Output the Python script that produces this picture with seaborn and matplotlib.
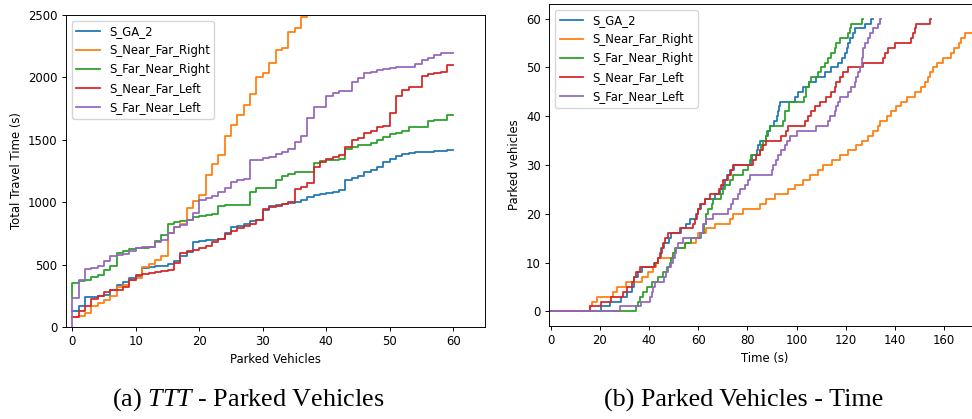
import numpy as np
import pandas as pd
import matplotlib
matplotlib.use("Agg")
import matplotlib.pyplot as plt
import seaborn as sns
from matplotlib.lines import Line2D

# ---------------- data ----------------
strategies = ["S_GA_2", "S_Near_Far_Right", "S_Far_Near_Right", "S_Near_Far_Left", "S_Far_Near_Left"]
colors = ["#1f77b4", "#ff7f0e", "#2ca02c", "#d62728", "#9467bd"]

parked = list(range(61))

# (a) cumulative total travel time (s) per number of parked vehicles (value held on [k, k+1))
ttt_start = {"S_GA_2": 125, "S_Near_Far_Right": 80, "S_Far_Near_Right": 240,
             "S_Near_Far_Left": 80, "S_Far_Near_Left": 0}
ttt_ga2 = [125, 165, 237, 240, 245, 255, 293, 340, 360, 390,
           410, 470, 480, 485, 487, 505, 525, 565, 600, 680,
           690, 695, 700, 705, 750, 800, 810, 825, 850, 857,
           940, 970, 980, 985, 990, 1000, 1020, 1040, 1055, 1065,
           1075, 1085, 1095, 1180, 1195, 1210, 1240, 1260, 1280, 1320,
           1350, 1370, 1390, 1395, 1400, 1405, 1405, 1408, 1410, 1418, 1418]
ttt_nfr = [80, 85, 112, 170, 190, 215, 250, 320, 340, 378,
           395, 480, 505, 540, 570, 752, 798, 827, 952, 1006,
           1059, 1219, 1307, 1379, 1531, 1620, 1700, 1780, 1868, 2006,
           2033, 2113, 2220, 2233, 2361, 2393, 2487, 2505, 2600]
ttt_fnr = [350, 371, 375, 400, 416, 453, 485, 592, 605, 624,
           632, 637, 640, 686, 739, 827, 838, 846, 855, 878,
           891, 899, 905, 966, 974, 978, 980, 980, 1078, 1113,
           1113, 1113, 1179, 1211, 1227, 1238, 1238, 1238, 1318, 1331,
           1339, 1342, 1345, 1427, 1446, 1459, 1462, 1473, 1499, 1521,
           1545, 1558, 1574, 1601, 1603, 1606, 1654, 1660, 1662, 1700, 1700]
ttt_nfl = [80, 125, 171, 224, 251, 277, 299, 300, 320, 379,
           416, 427, 430, 440, 446, 459, 512, 592, 606, 614,
           630, 646, 678, 704, 744, 771, 790, 806, 827, 854,
           944, 960, 971, 987, 1003, 1105, 1121, 1153, 1286, 1323,
           1345, 1366, 1379, 1446, 1500, 1518, 1558, 1574, 1606, 1611,
           1718, 1852, 1900, 1921, 1927, 2012, 2028, 2038, 2040, 2100, 2100]
ttt_fnl = [232, 379, 464, 472, 486, 526, 566, 579, 587, 606,
           632, 638, 640, 678, 699, 752, 800, 819, 859, 912,
           1019, 1033, 1046, 1078, 1113, 1158, 1179, 1185, 1339, 1339,
           1353, 1366, 1387, 1406, 1427, 1486, 1531, 1673, 1766, 1766,
           1852, 1873, 1894, 1894, 1966, 1993, 2033, 2046, 2059, 2065,
           2073, 2081, 2081, 2086, 2108, 2140, 2153, 2180, 2193, 2193, 2193]
ttt_values = {"S_GA_2": ttt_ga2, "S_Near_Far_Right": ttt_nfr, "S_Far_Near_Right": ttt_fnr,
              "S_Near_Far_Left": ttt_nfl, "S_Far_Near_Left": ttt_fnl}

# (b) parked vehicles over time: step break points (time s, count)
t_ga2 = [0, 20.3, 24, 28.7, 31, 33, 34, 35.5, 37, 42, 43.5, 45, 46, 48, 49, 53, 55, 56.5, 59, 60,
         61, 62.6, 67, 69, 70, 71, 71.5, 73, 74.4, 81.6, 82, 83.7, 84.5, 85, 87.7, 88.5, 89, 91,
         92, 92.5, 93, 93.4, 99.5, 100.6, 102.6, 105, 108, 111.5, 114, 117, 118.3, 119.6, 120.3,
         121, 121.6, 123, 123.6, 127.7, 130.4, 131]
n_ga2 = [0, 1, 2, 3, 4, 5, 7, 8, 9, 10, 11, 13, 14, 15, 16, 17, 18, 19, 20, 21,
         22, 23, 24, 25, 26, 27, 28, 29, 30, 31, 32, 33, 34, 35, 36, 37, 38, 39,
         40, 41, 42, 43, 44, 45, 46, 47, 48, 49, 50, 51, 52, 53, 54,
         55, 56, 57, 58, 59, 60, 60]
t_nfr = [0, 15.9, 16.8, 19, 25.4, 27, 30.8, 37, 39.6, 41.7, 43, 43.7, 49.8, 51.1, 54.5, 59, 60,
         63.3, 66.7, 72.8, 74.2, 78.2, 85, 87.7, 91.1, 96.5, 99.3, 102.6, 105.4, 108.7, 110.8,
         114.2, 117.6, 121, 124.3, 126.4, 129, 131.1, 133.2, 134, 136.9, 138.3, 140.6, 142.6,
         144.7, 148, 150.8, 152.1, 153.5, 154.2, 155.5, 157, 159.6, 162.7, 164, 166, 166.8, 168.4, 176]
n_nfr = [0, 1, 2, 3, 4, 5, 6, 7, 8, 9, 10, 11, 12, 13, 14, 15, 16,
         17, 18, 19, 20, 21, 22, 23, 24, 25, 26, 27, 28, 29, 30,
         31, 32, 33, 34, 35, 36, 37, 38, 39, 40, 41, 42, 43,
         44, 45, 46, 47, 48, 49, 50, 51, 52, 53, 54, 55, 56, 57, 57]
t_fnr = [0, 34.6, 35.5, 36.2, 37.5, 39, 41, 43.7, 45.7, 47.3, 48.4, 49, 49.7, 50.4, 54.5, 57,
         61.3, 62.3, 63, 64, 65.4, 66, 69.4, 70.1, 70.8, 72.8, 74, 78, 80.3, 81, 81.6, 85, 85.7,
         86.4, 87.7, 88, 89, 94.5, 95.3, 97, 103, 104, 105, 106, 108.7, 110, 111.5, 112.8, 114,
         115.5, 116, 117.6, 121, 121.6, 122.3, 126.4, 127]
n_fnr = [0, 1, 2, 3, 4, 5, 6, 7, 8, 9, 10, 11, 12, 13, 14, 15,
         16, 18, 20, 21, 22, 23, 24, 25, 26, 27, 28, 29, 30, 31, 32, 33, 34,
         35, 36, 37, 38, 39, 41, 43, 44, 46, 47, 48, 49, 50, 51, 52, 53,
         54, 55, 56, 57, 58, 59, 60, 60]
t_nfl = [0, 15.9, 20.6, 24.5, 29.5, 31, 33, 34, 34.8, 36.2, 42.3, 43.7, 44.6, 45.4, 45.8, 46.4,
         47.7, 52.7, 57.9, 58.6, 59.3, 60, 60.6, 62.7, 64.7, 68.5, 69.4, 70, 72, 73.4, 74, 82.3,
         83.4, 85, 86.4, 87.7, 93.8, 95.6, 96.5, 103.3, 104.7, 106, 107.4, 109.4, 112, 114, 115.5,
         116.2, 117.6, 119, 121, 127, 135, 135.9, 137, 140, 146.7, 147.4, 148, 148.7, 154.2, 154.6]
n_nfl = [0, 1, 2, 3, 4, 5, 6, 7, 8, 9, 10, 11, 12, 13, 14, 15,
         16, 17, 18, 19, 20, 21, 22, 23, 24, 25, 26, 27, 28, 29, 30, 31,
         32, 33, 34, 35, 36, 37, 38, 39, 40, 41, 42, 43, 44, 45, 46,
         47, 48, 49, 50, 51, 52, 53, 54, 55, 56, 57, 58, 59, 60, 60]
t_fnl = [0, 28, 36.9, 40.3, 41, 41.6, 42.3, 46.1, 46.8, 47.7, 49.1, 49.8, 50.4, 51.1, 51.8, 53.8,
         60.6, 61.8, 62, 63.3, 66, 72.1, 73.5, 74.2, 76.2, 76.9, 79, 80.3, 81, 89.8, 90.4, 91.8,
         92.5, 93.8, 95.2, 95.9, 97.2, 100, 108, 112.8, 113.5, 115.5, 116.2, 117, 117.6, 121,
         122.3, 123.7, 124.3, 125, 125.7, 126.4, 127, 127.7, 129, 129.8, 131, 133, 133.8, 134.4]
n_fnl = [0, 1, 2, 3, 4, 5, 6, 7, 8, 9, 10, 11, 12, 13, 14, 15,
         16, 17, 18, 19, 20, 21, 22, 23, 24, 25, 26, 27, 28, 29, 30, 31,
         32, 33, 34, 35, 36, 37, 38, 39, 40, 41, 42, 43, 44, 45,
         46, 47, 48, 49, 50, 52, 54, 55, 56, 57, 58, 59, 60, 60]
time_values = {"S_GA_2": (t_ga2, n_ga2), "S_Near_Far_Right": (t_nfr, n_nfr),
               "S_Far_Near_Right": (t_fnr, n_fnr), "S_Near_Far_Left": (t_nfl, n_nfl),
               "S_Far_Near_Left": (t_fnl, n_fnl)}

# ---------------- build tables ----------------
rows = []
for s in strategies:
    vals = ttt_values[s]
    xs = [0] + parked[:len(vals)]
    ys = [ttt_start[s]] + vals
    rows.append(pd.DataFrame({"x": xs, "y": ys, "Strategy": s}))
df_a = pd.concat(rows, ignore_index=True)

rows = []
for s in strategies:
    t, n = time_values[s]
    rows.append(pd.DataFrame({"x": t, "y": n, "Strategy": s}))
df_b = pd.concat(rows, ignore_index=True)

# ---------------- style ----------------
sc = 0.85
fs = 8.4
plt.rcParams.update({
    "font.family": ["DejaVu Sans"],
    "font.size": fs,
    "axes.linewidth": 0.8 * sc,
    "xtick.major.width": 0.8 * sc,
    "ytick.major.width": 0.8 * sc,
    "xtick.major.size": 3.5 * sc,
    "ytick.major.size": 3.5 * sc,
    "xtick.major.pad": 3.5 * sc,
    "ytick.major.pad": 3.5 * sc,
    "axes.labelpad": 4 * sc,
    "mathtext.fontset": "custom",
    "mathtext.it": "Liberation Serif:italic",
    "mathtext.rm": "Liberation Serif",
})

W, H = 972, 419
fig = plt.figure(figsize=(W / 100, H / 100), dpi=100)
ax1 = fig.add_axes([65.7 / W, 1 - 327 / H, (485 - 65.7) / W, (327 - 15) / H])
ax2 = fig.add_axes([549 / W, 1 - 326 / H, (981 - 549) / W, (326 - 4) / H])

pal = dict(zip(strategies, colors))
lw = 1.5 * sc

sns.lineplot(data=df_a, x="x", y="y", hue="Strategy", hue_order=strategies, palette=pal,
             estimator=None, sort=False, drawstyle="steps-post", linewidth=lw, ax=ax1, legend=False)
sns.lineplot(data=df_b, x="x", y="y", hue="Strategy", hue_order=strategies, palette=pal,
             estimator=None, sort=False, drawstyle="steps-post", linewidth=lw, ax=ax2, legend=False)

ax1.set_xlim(-1.05, 65)
ax1.set_ylim(0, 2500)
ax1.set_xticks([0, 10, 20, 30, 40, 50, 60])
ax1.set_yticks([0, 500, 1000, 1500, 2000, 2500])
ax1.set_xlabel("Parked Vehicles")
ax1.set_ylabel("Total Travel Time (s)")

ax2.set_xlim(-0.7, 175)
ax2.set_ylim(-3, 63)
ax2.set_xticks([0, 20, 40, 60, 80, 100, 120, 140, 160])
ax2.set_yticks([0, 10, 20, 30, 40, 50, 60])
ax2.set_xlabel("Time (s)")
ax2.set_ylabel("Parked vehicles")

handles = [Line2D([], [], color=pal[s], lw=lw) for s in strategies]
for ax in (ax1, ax2):
    ax.legend(handles, strategies, loc="upper left")

cap_kw = dict(ha="center", va="center", fontsize=18.8, family="Liberation Serif")
fig.text(248 / W, 1 - 400 / H, "(a) $TTT$ - Parked Vehicles", **cap_kw)
fig.text(744 / W, 1 - 400 / H, "(b) Parked Vehicles - Time", **cap_kw)

fig.savefig("out.png", dpi=100)
